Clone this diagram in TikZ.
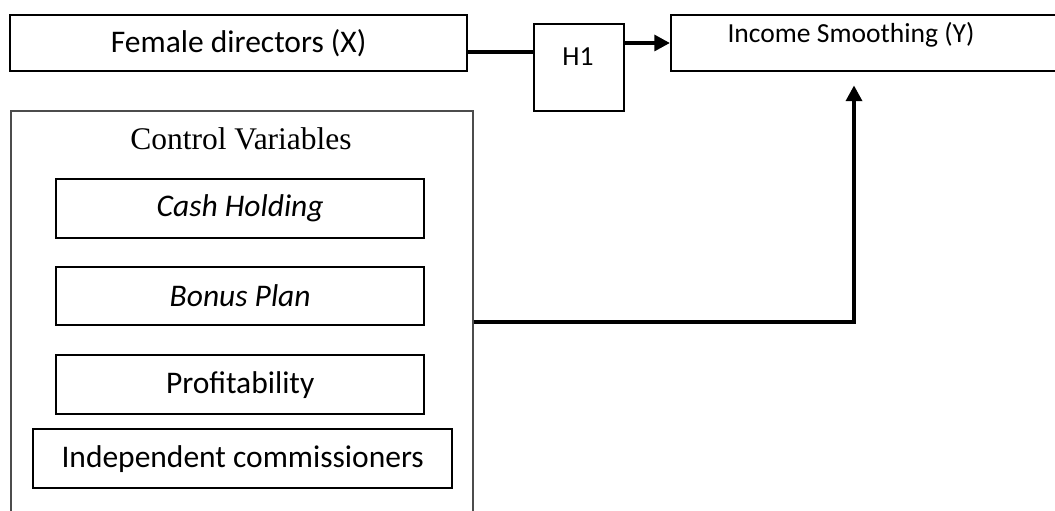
\documentclass[tikz,border=0pt,12pt]{standalone}
\usepackage{fontspec}
\setmainfont{Carlito}
\newfontfamily\timesfont{Liberation Serif}
\usetikzlibrary{arrows.meta}
\newcommand{\pxu}{0.381pt}

\begin{document}
\begin{tikzpicture}[x=\pxu,y=-\pxu,
  box/.style={draw,line width=0.9pt,anchor=north west,inner sep=0pt},
  small/.style={font=\fontsize{10.5}{12}\selectfont},
  link/.style={line width=1.5pt},
  arr/.style={link,-{Triangle[length=6pt,width=6pt]}}]

\clip (0,0) rectangle (1055,511);

\node[box,minimum width=457*\pxu,minimum height=56*\pxu](fd) at (9,14){Female directors (X)};
\node[box,minimum width=90*\pxu,minimum height=87*\pxu](h1) at (533,23){};
\node[small](h1txt) at (578,57){H1};
\node[box,minimum width=460*\pxu,minimum height=56*\pxu](is) at (670,14){};
\node[small](istxt) at (851,35){Income Smoothing (Y)};

\node[draw=black!70,line width=0.6pt,anchor=north west,minimum width=462*\pxu,minimum height=450*\pxu](cv) at (10,110){};
\node(cvtxt) at (241,139){\timesfont Control Variables};
\node[box,minimum width=368*\pxu,minimum height=59*\pxu](ch) at (55,178){\itshape Cash Holding};
\node[box,minimum width=368*\pxu,minimum height=58*\pxu](bp) at (55,266){\itshape Bonus Plan};
\node[box,minimum width=368*\pxu,minimum height=59*\pxu](pr) at (55,354){Profitability};
\node[box,minimum width=419*\pxu,minimum height=59*\pxu](ic) at (32,428){Independent commissioners};

\draw[link](fd.east|-0,52)--(h1.west|-0,52);
\draw[arr](h1.east|-0,43)--(is.west|-0,43);
\draw[arr,shorten >=13*\pxu](cv.east|-0,322)-|(is.south-|854,0);

\end{tikzpicture}
\end{document}
